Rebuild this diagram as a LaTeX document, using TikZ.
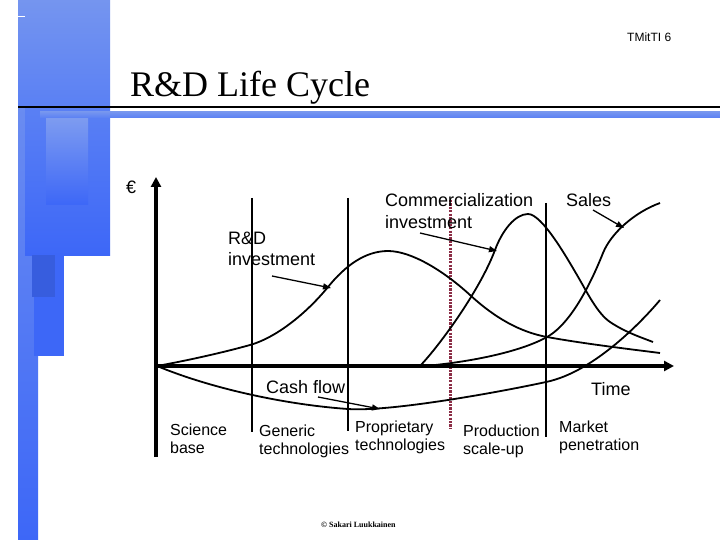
\documentclass[tikz,border=0pt]{standalone}
\usepackage{fontspec}
\setmainfont{Liberation Sans}
\newfontfamily\titlefont{Liberation Serif}
\usetikzlibrary{arrows.meta}
\definecolor{blA}{HTML}{7595EF}
\definecolor{blB}{HTML}{5A80F4}
\definecolor{blC}{HTML}{3D67F7}
\definecolor{blD}{HTML}{7E9CF0}
\definecolor{maroon}{HTML}{8B2D46}
\tikzset{
  lbl/.style={anchor=base west, inner sep=0pt, font=\fontsize{18}{20}\selectfont},
  small/.style={anchor=base west, inner sep=0pt, font=\fontsize{16}{18}\selectfont},
  curve/.style={line width=1.8pt, line join=round},
  divider/.style={line width=2pt},
  pointer/.style={line width=1.3pt, -{Triangle[length=8pt,width=6pt]}},
  axis/.style={line width=3.6pt, -{Triangle[length=10pt,width=10pt]}}
}
\begin{document}
\begin{tikzpicture}[x=1pt,y=-1pt]
\useasboundingbox (0,0) rectangle (720,540);
\fill[white] (0,0) rectangle (720,540);
% blue decoration
\shade[top color=blA, bottom color=blC] (18,0) rectangle (38,540);
\shade[top color=blA, bottom color=blB] (18,0) rectangle (110,107);
\shade[top color=blB, bottom color=blC] (25,107) rectangle (110,255);
\shade[top color=blD, bottom color=blC] (46,117) rectangle (88,205);
\fill[blC] (34,255) rectangle (64,356);
\fill[blC!90!black] (32,255) rectangle (55,297);
\shade[top color=blA, bottom color=blB] (40,112) rectangle (720,118);
\draw[black, line width=1.5pt] (18,107) -- (720,107);
\draw[white, line width=0.8pt] (18,16) -- (25,16);
% header
\node[anchor=base west, inner sep=0pt, font=\fontsize{12}{14}\selectfont] (hdr) at (627,42) {TMitTI 6};
\node[anchor=base west, inner sep=0pt, font=\titlefont\fontsize{36}{40}\selectfont] (title) at (130,97) {R\&D Life Cycle};
% dividers
\draw[divider] (252,198) -- (252,432);
\draw[divider] (348,198) -- (348,431);
\draw[divider] (546,203) -- (546,437);
\draw[maroon, line width=3pt, dash pattern=on 2.2pt off 1.2pt] (450,200) -- (450,429);
% axes
\coordinate (orig) at (157,366);
\coordinate (ybot) at (156,457);
\coordinate (ytop) at (156,177);
\coordinate (xend) at (674,366);
\draw[axis] (ybot) -- (ytop);
\draw[axis] (orig) -- (xend);
% curves
% R&D investment
\draw[curve] (157,366) .. controls (190,360) and (225,352) .. (250,345)
  .. controls (275,338) and (305,315) .. (328,287)
  .. controls (345,266) and (365,251) .. (388,251)
  .. controls (412,251) and (445,272) .. (470,295)
  .. controls (495,318) and (520,332) .. (547,337)
  .. controls (580,343) and (620,348) .. (660,353);
% commercialization investment
\draw[curve] (420,366) .. controls (440,345) and (480,290) .. (495,250)
  .. controls (502,231) and (515,214) .. (528,214)
  .. controls (542,214) and (567,258) .. (577,275)
  .. controls (587,292) and (597,313) .. (610,322)
  .. controls (625,332) and (640,337) .. (653,342);
% sales
\draw[curve] (425,366) .. controls (470,362) and (520,352) .. (547,337)
  .. controls (574,322) and (595,273) .. (603,253)
  .. controls (611,233) and (635,212) .. (660,203);
% cash flow
\draw[curve] (157,366) .. controls (215,390) and (290,405) .. (348,409)
  .. controls (390,412) and (500,392) .. (546,382)
  .. controls (595,372) and (645,318) .. (660,300);
% labels
\node[anchor=base west, inner sep=0pt, font=\fontsize{18}{20}\selectfont] (euro) at (126,194) {€};
\node[lbl] (comm1) at (385,207) {Commercialization};
\node[lbl] (comm2) at (385,229) {investment};
\node[lbl] (sales) at (566,207) {Sales};
\node[lbl] (rd1) at (228,244) {R\&D};
\node[lbl] (rd2) at (228,265) {investment};
\node[lbl] (cash) at (266,393) {Cash flow};
\node[lbl] (time) at (591,395) {Time};
\node[small] (sci1) at (170,435) {Science};
\node[small] (sci2) at (170,453) {base};
\node[small] (gen1) at (259,436) {Generic};
\node[small] (gen2) at (259,454) {technologies};
\node[small] (pro1) at (355,432) {Proprietary};
\node[small] (pro2) at (355,450) {technologies};
\node[small] (prd1) at (463,436) {Production};
\node[small] (prd2) at (463,454) {scale-up};
\node[small] (mkt1) at (559,432) {Market};
\node[small] (mkt2) at (559,450) {penetration};
\node[anchor=base west, inner sep=0pt, font=\titlefont\bfseries\fontsize{8}{9}\selectfont] (copy) at (321,527) {© Sakari Luukkainen};
% pointers
\coordinate (rdA) at (272,276); \coordinate (rdB) at (331,288);
\coordinate (cmA) at (420,233); \coordinate (cmB) at (497,251);
\coordinate (slA) at (593,210); \coordinate (slB) at (624,228);
\coordinate (cfA) at (318,397); \coordinate (cfB) at (380,409);
\draw[pointer] (rdA) -- (rdB);
\draw[pointer] (cmA) -- (cmB);
\draw[pointer] (slA) -- (slB);
\draw[pointer] (cfA) -- (cfB);
\end{tikzpicture}
\end{document}
